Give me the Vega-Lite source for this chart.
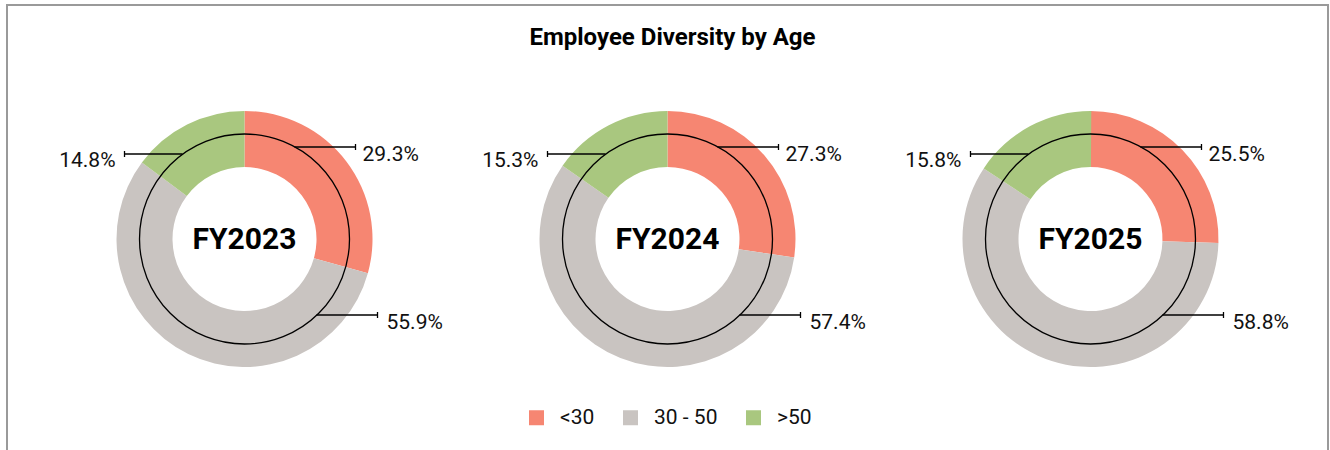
{
  "$schema": "https://vega.github.io/schema/vega-lite/v6.json",
  "width": 1330,
  "height": 450,
  "autosize": {"type": "fit", "contains": "padding"},
  "padding": {"left": 7, "top": 5, "right": 2, "bottom": -23},
  "background": "white",
  "config": {
    "view": {"stroke": "#9a9a9a", "strokeWidth": 2},
    "font": "Roboto"
  },
  "title": {
    "text": "Employee Diversity by Age",
    "font": "Roboto",
    "fontSize": 24,
    "fontWeight": "bold",
    "color": "#000",
    "anchor": "middle",
    "baseline": "alphabetic",
    "offset": -64,
    "dx": 5
  },
  "data": {
    "values": [
      {"year": "FY2023", "group": "<30", "value": 0.293},
      {"year": "FY2023", "group": "30 - 50", "value": 0.559},
      {"year": "FY2023", "group": ">50", "value": 0.148},
      {"year": "FY2024", "group": "<30", "value": 0.273},
      {"year": "FY2024", "group": "30 - 50", "value": 0.574},
      {"year": "FY2024", "group": ">50", "value": 0.153},
      {"year": "FY2025", "group": "<30", "value": 0.255},
      {"year": "FY2025", "group": "30 - 50", "value": 0.588},
      {"year": "FY2025", "group": ">50", "value": 0.158}
    ]
  },
  "transform": [
    {"stack": "value", "groupby": ["year"], "as": ["v0", "v1"]}
  ],
  "encoding": {
    "x": {"field": "year", "type": "nominal", "scale": {"type": "point", "padding": 0.5615}, "axis": null}
  },
  "layer": [
    {
      "mark": {"type": "arc", "radius": 128, "radius2": 72},
      "encoding": {
        "y": {"datum": 0, "type": "quantitative", "scale": {"domain": [-234, 234], "nice": false, "zero": false}, "axis": null},
        "theta": {"field": "v0", "type": "quantitative", "stack": null, "scale": {"domain": [0, 1], "range": [0, 6.283185307]}},
        "theta2": {"field": "v1"},
        "color": {
          "field": "group",
          "type": "nominal",
          "scale": {"domain": ["<30", "30 - 50", ">50"], "range": ["#F68672", "#C9C4C1", "#A9C77F"]},
          "legend": {
            "orient": "none",
            "legendX": 519,
            "legendY": 402,
            "direction": "horizontal",
            "title": null,
            "symbolType": "square",
            "symbolSize": 225,
            "symbolStrokeWidth": 0,
            "symbolOpacity": 1,
            "labelFont": "Roboto",
            "labelFontSize": 21,
            "labelColor": "#111",
            "labelOffset": 13,
            "columnPadding": 25,
            "padding": 0
          }
        }
      }
    },
    {
      "transform": [{"filter": "datum.group === '<30'"}],
      "mark": {"type": "arc", "radius": 105, "theta": 0, "theta2": 6.2832, "filled": false, "stroke": "#000", "strokeWidth": 1.3},
      "encoding": {
        "y": {"datum": 0, "type": "quantitative", "scale": {"domain": [-234, 234], "nice": false, "zero": false}, "axis": null}
      }
    },
    {
      "transform": [{"filter": "datum.group === '<30'"}],
      "mark": {"type": "text", "font": "Roboto", "fontSize": 30, "fontWeight": "bold", "color": "#000", "align": "center", "baseline": "alphabetic"},
      "encoding": {
        "y": {"datum": -10, "type": "quantitative", "scale": {"domain": [-234, 234], "nice": false, "zero": false}, "axis": null},
        "text": {"field": "year"}
      }
    },
    {
      "transform": [{"filter": "datum.group === '<30'"}],
      "mark": {"type": "rule", "xOffset": 50, "x2Offset": 111, "color": "#000", "strokeWidth": 1.3},
      "encoding": {
        "x2": {"field": "year"},
        "y": {"datum": 92, "type": "quantitative", "scale": {"domain": [-234, 234], "nice": false, "zero": false}, "axis": null}
      }
    },
    {
      "transform": [{"filter": "datum.group === '<30'"}],
      "mark": {"type": "rule", "xOffset": 111, "color": "#000", "strokeWidth": 1.3},
      "encoding": {
        "y": {"datum": 95, "type": "quantitative", "scale": {"domain": [-234, 234], "nice": false, "zero": false}, "axis": null},
        "y2": {"datum": 89}
      }
    },
    {
      "transform": [{"filter": "datum.group === '<30'"}],
      "mark": {"type": "text", "xOffset": 118, "font": "Roboto", "fontSize": 21, "color": "#111", "align": "left", "baseline": "alphabetic"},
      "encoding": {
        "y": {"datum": 78, "type": "quantitative", "scale": {"domain": [-234, 234], "nice": false, "zero": false}, "axis": null},
        "text": {"field": "value", "type": "quantitative", "format": ".1%"}
      }
    },
    {
      "transform": [{"filter": "datum.group === '30 - 50'"}],
      "mark": {"type": "rule", "xOffset": 72, "x2Offset": 133, "color": "#000", "strokeWidth": 1.3},
      "encoding": {
        "x2": {"field": "year"},
        "y": {"datum": -76, "type": "quantitative", "scale": {"domain": [-234, 234], "nice": false, "zero": false}, "axis": null}
      }
    },
    {
      "transform": [{"filter": "datum.group === '30 - 50'"}],
      "mark": {"type": "rule", "xOffset": 133, "color": "#000", "strokeWidth": 1.3},
      "encoding": {
        "y": {"datum": -73, "type": "quantitative", "scale": {"domain": [-234, 234], "nice": false, "zero": false}, "axis": null},
        "y2": {"datum": -79}
      }
    },
    {
      "transform": [{"filter": "datum.group === '30 - 50'"}],
      "mark": {"type": "text", "xOffset": 142, "font": "Roboto", "fontSize": 21, "color": "#111", "align": "left", "baseline": "alphabetic"},
      "encoding": {
        "y": {"datum": -90, "type": "quantitative", "scale": {"domain": [-234, 234], "nice": false, "zero": false}, "axis": null},
        "text": {"field": "value", "type": "quantitative", "format": ".1%"}
      }
    },
    {
      "transform": [{"filter": "datum.group === '>50'"}],
      "mark": {"type": "rule", "xOffset": -62, "x2Offset": -120, "color": "#000", "strokeWidth": 1.3},
      "encoding": {
        "x2": {"field": "year"},
        "y": {"datum": 85, "type": "quantitative", "scale": {"domain": [-234, 234], "nice": false, "zero": false}, "axis": null}
      }
    },
    {
      "transform": [{"filter": "datum.group === '>50'"}],
      "mark": {"type": "rule", "xOffset": -120, "color": "#000", "strokeWidth": 1.3},
      "encoding": {
        "y": {"datum": 88, "type": "quantitative", "scale": {"domain": [-234, 234], "nice": false, "zero": false}, "axis": null},
        "y2": {"datum": 82}
      }
    },
    {
      "transform": [{"filter": "datum.group === '>50'"}],
      "mark": {"type": "text", "xOffset": -129, "font": "Roboto", "fontSize": 21, "color": "#111", "align": "right", "baseline": "alphabetic"},
      "encoding": {
        "y": {"datum": 72, "type": "quantitative", "scale": {"domain": [-234, 234], "nice": false, "zero": false}, "axis": null},
        "text": {"field": "value", "type": "quantitative", "format": ".1%"}
      }
    }
  ]
}
